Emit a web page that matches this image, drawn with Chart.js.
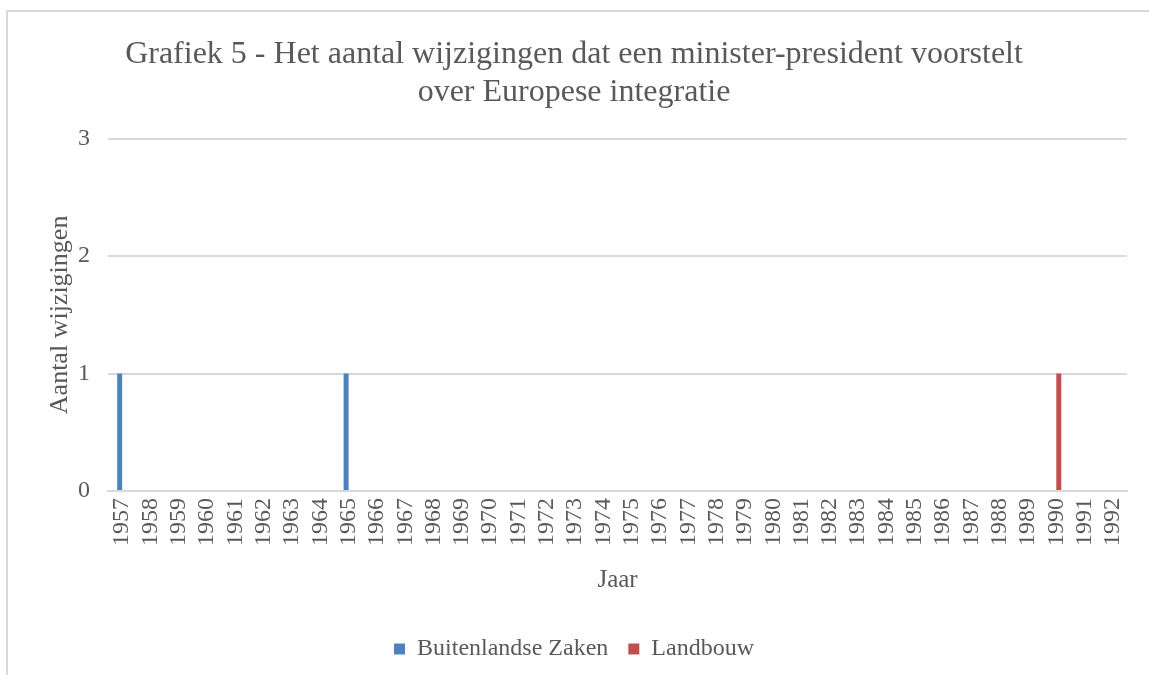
<!DOCTYPE html>
<html>
<head>
<meta charset="utf-8">
<script src="https://cdn.jsdelivr.net/npm/chart.js@4"></script>
<style>
  html, body { margin: 0; padding: 0; background: #fff; overflow: hidden; }
  #wrap { position: relative; width: 1149px; height: 675px; }
  #frame { position: absolute; left: 6px; top: 10px; width: 1200px; height: 700px; border: 2px solid #d9d9d9; box-sizing: border-box; }
  canvas { position: absolute; left: 0; top: 0; }
</style>
</head>
<body>
<div id="wrap">
  <div id="frame"></div>
  <canvas id="c" width="1149" height="675"></canvas>
</div>
<script>
const years = ['1957','1958','1959','1960','1961','1962','1963','1964','1965','1966','1967','1968','1969','1970','1971','1972','1973','1974','1975','1976','1977','1978','1979','1980','1981','1982','1983','1984','1985','1986','1987','1988','1989','1990','1991','1992'];
const buitenlandseZaken = [1,0,0,0,0,0,0,0,1,0,0,0,0,0,0,0,0,0,0,0,0,0,0,0,0,0,0,0,0,0,0,0,0,0,0,0];
const landbouw = [0,0,0,0,0,0,0,0,0,0,0,0,0,0,0,0,0,0,0,0,0,0,0,0,0,0,0,0,0,0,0,0,0,1,0,0];
const yTicks = [0,1,2,3];
const titleLines = ['Grafiek 5 - Het aantal wijzigingen dat een minister-president voorstelt', 'over Europese integratie'];

const FONT = '"Liberation Serif", "Times New Roman", serif';
const TXT = '#595959';

new Chart(document.getElementById('c'), {
  type: 'bar',
  data: {
    labels: years,
    datasets: [
      { label: 'Buitenlandse Zaken', data: buitenlandseZaken, backgroundColor: '#4f81bd', barThickness: 5, borderWidth: 0, inflateAmount: 0 },
      { label: 'Landbouw', data: landbouw, backgroundColor: '#c0504d', barThickness: 5, borderWidth: 0, inflateAmount: 0 }
    ]
  },
  options: {
    responsive: false,
    animation: false,
    layout: { padding: { left: 20, right: 21, top: 0, bottom: 4 } },
    plugins: {
      title: {
        display: true,
        text: titleLines,
        color: TXT,
        font: { family: FONT, size: 32, weight: 'normal', lineHeight: 1.2 },
        padding: { top: 35, bottom: 27 }
      },
      legend: {
        position: 'bottom',
        labels: {
          color: TXT,
          font: { family: FONT, size: 24 },
          boxWidth: 11, boxHeight: 11,
          padding: 20
        }
      },
      tooltip: { enabled: false }
    },
    scales: {
      x: {
        afterFit: (s) => { s.height = 126; },
        grid: { display: false, drawTicks: false },
        border: { display: true, color: '#d9d9d9', width: 2 },
        ticks: {
          color: TXT, font: { family: FONT, size: 24 },
          minRotation: 90, maxRotation: 90, autoSkip: false, padding: 7
        },
        title: {
          display: true, text: 'Jaar', color: TXT,
          font: { family: FONT, size: 25 }, padding: { top: 22, bottom: 22 }
        }
      },
      y: {
        min: 0, max: 3,
        afterFit: (s) => { s.width = 88; },
        afterBuildTicks: (s) => { s.ticks = yTicks.map(v => ({ value: v })); },
        grid: { color: '#d9d9d9', lineWidth: 2, drawTicks: false },
        border: { display: false },
        ticks: { color: TXT, font: { family: FONT, size: 24 }, padding: 18 },
        title: {
          display: true, text: 'Aantal wijzigingen', color: TXT,
          font: { family: FONT, size: 26 }, padding: { top: 25, bottom: 25 }
        }
      }
    }
  }
});
</script>
</body>
</html>
